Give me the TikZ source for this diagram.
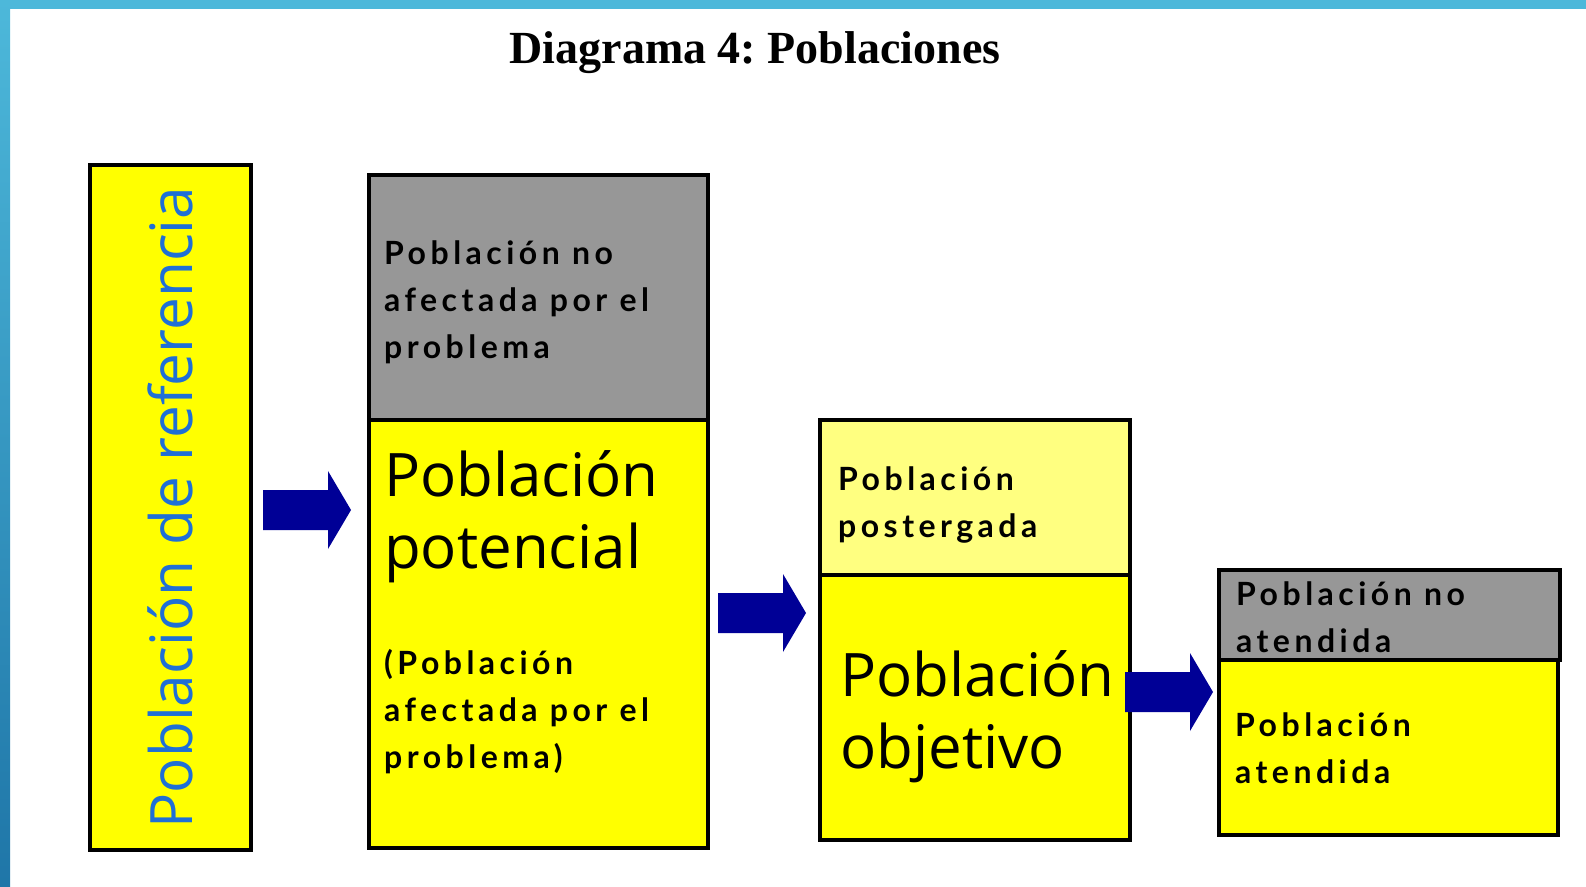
\documentclass[tikz,border=0pt]{standalone}
\usepackage{fontspec}
\usetikzlibrary{calc}
\newfontfamily\titlefont{Liberation Serif}
\newfontfamily\bigfont{Open Sans}
\newfontfamily\labelfont[LetterSpace=14]{Lato}
\definecolor{popyellow}{HTML}{FFFF00}
\definecolor{lightyellow}{HTML}{FFFF80}
\definecolor{popgray}{HTML}{979797}
\definecolor{arrownavy}{HTML}{000096}
\definecolor{refblue}{HTML}{1F6FD6}
\definecolor{frametop}{HTML}{4DB8DA}
\definecolor{framebottom}{HTML}{1F76A8}
\frenchspacing

\begin{document}
\begin{tikzpicture}[x=1pt, y=-1pt,
  box/.style={draw=black, line width=4pt, inner sep=0pt, outer sep=0pt, anchor=north west},
  smalltext/.style={anchor=base west, align=left, inner sep=0pt,
    font=\labelfont\bfseries\fontsize{32}{47}\selectfont},
  bigtext/.style={anchor=base west, align=left, inner sep=0pt,
    font=\bigfont\fontsize{60}{72}\selectfont},
  blockarrow/.style={fill=arrownavy}]
  \useasboundingbox (0,0) rectangle (1586,886);

  % Frame strips
  \fill[frametop] (0,0) rectangle (1586,9);
  \shade[top color=frametop, bottom color=framebottom] (0,0) rectangle (10,886);

  % Title
  \node[font=\titlefont\bfseries\fontsize{46}{50}\selectfont, anchor=base] (title) at (755,63) {Diagrama 4: Poblaciones};

  % Boxes
  \node[box, fill=popyellow, minimum width=161, minimum height=685] (ref) at (90,165) {};
  \node[box, fill=popgray, minimum width=339, minimum height=245] (noaf) at (369,175) {};
  \node[box, fill=popyellow, minimum width=339, minimum height=428] (pot) at (noaf.south west) {};
  \node[box, fill=lightyellow, minimum width=310, minimum height=155] (post) at (820,420) {};
  \node[box, fill=popyellow, minimum width=310, minimum height=265] (obj) at (post.south west) {};
  \node[box, fill=popgray, minimum width=341, minimum height=90] (noat) at (1219,570) {};
  \node[box, fill=popyellow, minimum width=339, minimum height=175] (aten) at (noat.south west) {};

  % Texts (anchored at the baseline of the last line)
  \node[rotate=90, inner sep=0pt, text=refblue, font=\bigfont\fontsize{58.5}{60}\selectfont] (reftext) at (ref.center) {Población de referencia};
  \node[smalltext] (noaftext) at (384,358) {Población no\\afectada por el\\problema};
  \node[bigtext] (pottext) at (384,568) {Población\\potencial};
  \node[smalltext] (afectext) at (384,768) {(Población\\afectada por el\\problema)};
  \node[smalltext] (posttext) at (838,537) {Población\\postergada};
  \node[bigtext] (objtext) at (840,768) {Población\\objetivo};
  \node[smalltext] (noattext) at (1236,652) {Población no\\atendida};
  \node[smalltext] (atentext) at (1235,783) {Población\\atendida};

  % Arrows
  \foreach \x/\y in {263/510, 718/613, 1125/692} {
    \fill[blockarrow] (\x,\y-20) -- ++(65,0) -- ++(0,-19) -- (\x+88,\y)
      -- (\x+65,\y+39) -- ++(0,-19) -- (\x,\y+20) -- cycle;
  }
\end{tikzpicture}
\end{document}
